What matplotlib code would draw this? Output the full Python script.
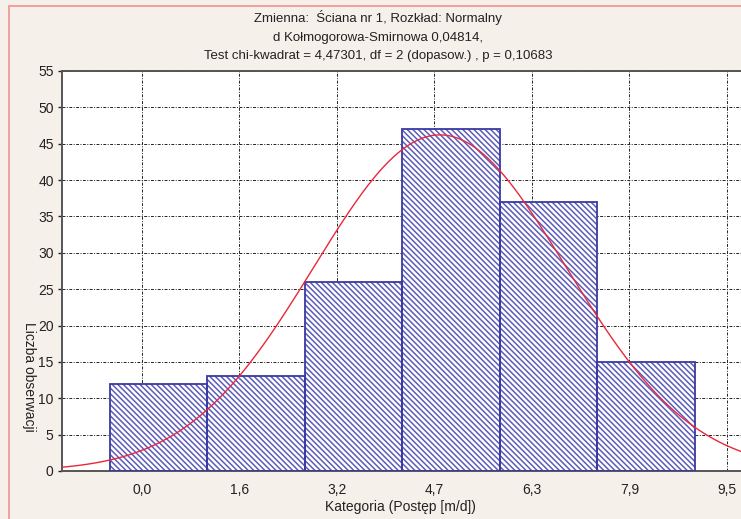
import numpy as np
import matplotlib
matplotlib.use("Agg")
import matplotlib.pyplot as plt
from matplotlib.patches import Rectangle

plt.rcParams['font.family'] = ['Liberation Sans', 'DejaVu Sans']
plt.rcParams['hatch.linewidth'] = 1.1

# Data
counts = [12, 13, 26, 47, 37, 15]
bin_start = -0.52
bin_width = 1.5833
tick_values = [0.0, 1.5833, 3.1667, 4.75, 6.3333, 7.9167, 9.5]
tick_labels = ['0,0', '1,6', '3,2', '4,7', '6,3', '7,9', '9,5']
y_ticks = list(range(0, 56, 5))

# fitted normal curve parameters
fit_mean = 4.84
fit_sd = 2.05
n_obs = sum(counts)

title = ("Zmienna:  Ściana nr 1, Rozkład: Normalny\n"
         "d Kołmogorowa-Smirnowa 0,04814,\n"
         "Test chi-kwadrat = 4,47301, df = 2 (dopasow.) , p = 0,10683")

W, H = 741, 519
fig = plt.figure(figsize=(W / 100, H / 100), dpi=100)
fig.patch.set_facecolor('#F6F0EA')

# pink frame line (left and top)
fig.patches.append(Rectangle((9 / W, -0.1), 1.2, 1 - 6 / H + 0.1, transform=fig.transFigure,
                             fill=False, edgecolor='#EE9090', linewidth=1.2))

ax = fig.add_axes([62 / W, 1 - 471 / H, (W - 62) / W + 0.01, 400 / H])
ax.set_facecolor('white')

lefts = [bin_start + i * bin_width for i in range(len(counts))]
ax.bar(lefts, counts, width=bin_width, align='edge', color='white',
       edgecolor='#5C5CBC', hatch='\\' * 6, linewidth=0, zorder=2)
ax.bar(lefts, counts, width=bin_width, align='edge', fill=False,
       edgecolor='#3A3AA0', linewidth=1.3, zorder=3)

xs = np.linspace(-1.4, 9.9, 400)
ys = n_obs * bin_width / (fit_sd * np.sqrt(2 * np.pi)) * np.exp(-0.5 * ((xs - fit_mean) / fit_sd) ** 2)
ax.plot(xs, ys, color='#E8283A', linewidth=1.0, zorder=4)

ax.set_xlim(-1.30, 9.73 + 0.01 * W / 61.58)
ax.set_ylim(0, 55)
ax.set_xticks(tick_values)
ax.set_xticklabels(tick_labels)
ax.set_yticks(y_ticks)
ax.tick_params(axis='x', length=0, pad=9, labelsize=10, colors='#222222')
ax.tick_params(axis='y', length=3, width=1, pad=3, labelsize=10, colors='#222222')

ax.grid(True, color='#222222', linestyle=(0, (3, 1.5, 1, 1.5)), linewidth=0.7, zorder=1)
ax.set_axisbelow(True)

for s in ['left', 'bottom', 'top']:
    ax.spines[s].set_color('#555555')
    ax.spines[s].set_linewidth(1.4)
ax.spines['right'].set_visible(False)

fig.text(378 / W, 1 - 10 / H, title, ha='center', va='top', fontsize=9.5,
         color='#222222', linespacing=1.75)
fig.text(400 / W, 1 - 507 / H, 'Kategoria (Postęp [m/d])', ha='center', va='center',
         fontsize=10, color='#222222')
fig.text(29 / W, 1 - 377 / H, 'Liczba obserwacji', ha='center', va='center',
         rotation=270, fontsize=10, color='#222222')

fig.savefig('out.png', dpi=100, facecolor=fig.get_facecolor())
